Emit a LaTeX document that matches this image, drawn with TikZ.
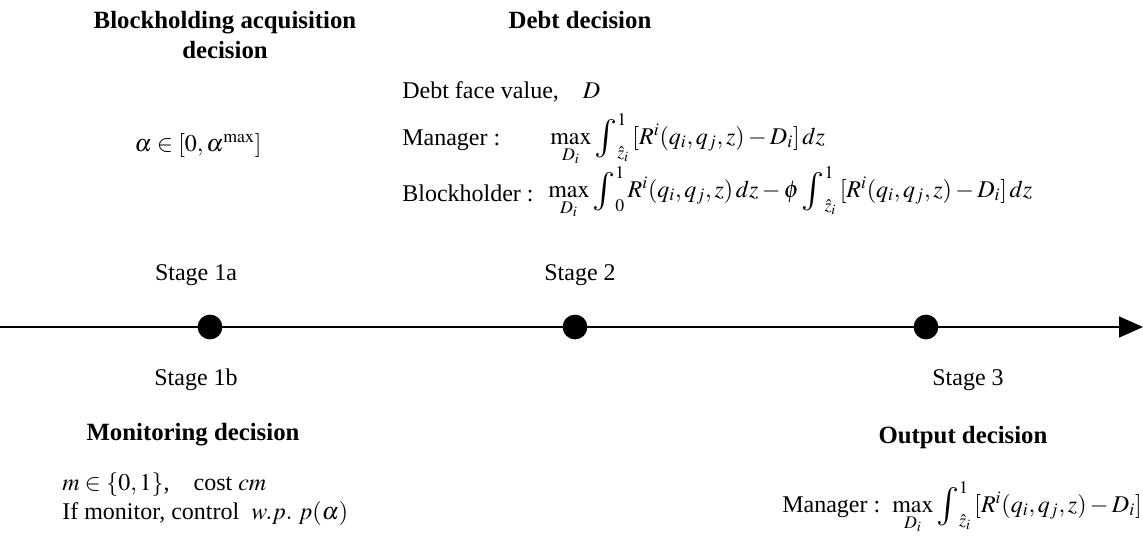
\documentclass[tikz,border=0pt]{standalone}
\usepackage{amsmath}
\usepackage{graphicx}
\usepackage{mathptmx}
\usepackage{fontspec}
\setmainfont{Liberation Serif}
\usetikzlibrary{positioning}
\usetikzlibrary{arrows.meta}
\newcommand{\bint}{\mathop{\vcenter{\hbox{\scalebox{1.6}{$\int$}}}}\nolimits}

\begin{document}
\begin{tikzpicture}[x=0.625pt,y=-0.625pt,
        every node/.style={inner sep=0pt,font=\fontsize{15}{18}\selectfont},
        head/.style={font=\fontsize{15.5}{19}\selectfont\bfseries,align=center},
        stage/.style={},
        event/.style={circle,fill=black,minimum size=15.5pt}]
   \useasboundingbox (0,0) rectangle (1143,543);
   % time line
   \coordinate (start) at (0,327);
   \coordinate (end) at (1143,327);
   \draw[-{Triangle[length=15pt,width=13pt]},line width=1.4pt] (start) -- (end);
   \node[event] (s1) at (210,327) {};
   \node[event] (s2) at (575,327) {};
   \node[event] (s3) at (926,327) {};
   \node[stage] (l1a) at (196,275) {Stage 1a};
   \node[stage] (l2) at (580,275) {Stage 2};
   \node[stage] (l1b) at (196,380) {Stage 1b};
   \node[stage] (l3) at (968,380) {Stage 3};
   % stage 1a
   \node[head] (H1) at (225,35) {Blockholding acquisition\\decision};
   \node (alpha) at (198,145) {$\alpha \in [0, \alpha^{\max}]$};
   % stage 2
   \node[head] (H2) at (580,20) {Debt decision};
   \node[anchor=west] (face) at (402,92) {Debt face value,\quad $D$};
   \node[anchor=west] (mgr) at (402,140) {Manager :};
   \node[anchor=west] (mgrf) at (550,140)
      {$\max\limits_{D_i}\bint_{\hat z_i}^{1}\,[R^i(q_i,q_j,z)-D_i]\,dz$};
   \node[anchor=west] (bh) at (402,193) {Blockholder :};
   \node[anchor=west] (bhf) at (548,193)
      {$\max\limits_{D_i}\bint_{0}^{1}R^i(q_i,q_j,z)\,dz-\phi\bint_{\hat z_i}^{1}\,[R^i(q_i,q_j,z)-D_i]\,dz$};
   % stage 1b
   \node[head] (H3) at (193,435) {Monitoring decision};
   \node[anchor=west] (mset) at (62,485) {$m\in\{0,1\}$,\quad cost $cm$};
   \node[anchor=west] (mon) at (62,513) {If monitor,\ control\ \ $w.p.\ p(\alpha)$};
   % stage 3
   \node[head] (H4) at (963,438) {Output decision};
   \node[anchor=west] (mgr3) at (782,508)
      {Manager :\ \ $\max\limits_{D_i}\bint_{\hat z_i}^{1}\,[R^i(q_i,q_j,z)-D_i]\,dz$};
\end{tikzpicture}
\end{document}
